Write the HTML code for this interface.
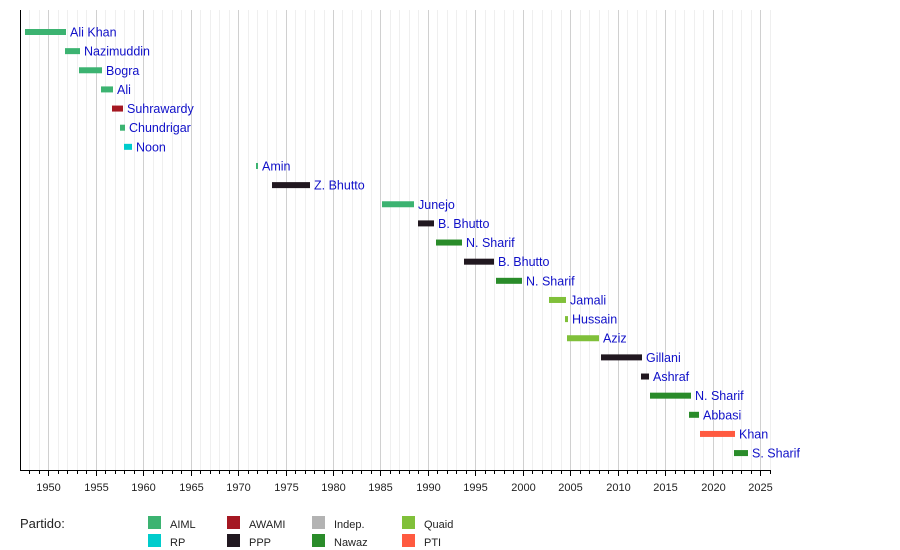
<!DOCTYPE html>
<html><head><style>body{margin:0;background:#fff}svg{display:block}text{font-family:"Liberation Sans",Arial,sans-serif}</style></head><body>
<svg width="900" height="550" xmlns="http://www.w3.org/2000/svg">
<g id="grid"></g>
<line x1="20.5" y1="10" x2="20.5" y2="470" stroke="#000"/>
<line x1="20" y1="470.5" x2="771" y2="470.5" stroke="#000"/>
<g id="ticks"></g>
<g id="bars"></g>
<text x="20" y="528" font-size="13" fill="#222">Partido:</text>
<g font-size="11" fill="#222">
<rect x="148" y="516" width="13" height="13" fill="#3cb371"/><text x="170" y="528">AIML</text>
<rect x="227" y="516" width="13" height="13" fill="#a51822"/><text x="249" y="528">AWAMI</text>
<rect x="312" y="516" width="13" height="13" fill="#b3b3b3"/><text x="334" y="528">Indep.</text>
<rect x="402" y="516" width="13" height="13" fill="#80c03a"/><text x="424" y="528">Quaid</text>
<rect x="148" y="534" width="13" height="13" fill="#00cccc"/><text x="170" y="546">RP</text>
<rect x="227" y="534" width="13" height="13" fill="#211820"/><text x="249" y="546">PPP</text>
<rect x="312" y="534" width="13" height="13" fill="#2a8c2a"/><text x="334" y="546">Nawaz</text>
<rect x="402" y="534" width="13" height="13" fill="#ff5a40"/><text x="424" y="546">PTI</text>
</g>
<script>
var ns="http://www.w3.org/2000/svg";
function el(p,t,a,tx){var e=document.createElementNS(ns,t);for(var k in a)e.setAttribute(k,a[k]);if(tx)e.textContent=tx;document.getElementById(p).appendChild(e);}
function X(y){return 48.3+(y-1950)*9.49;}
for(var y=1948;y<=2026;y++){var x=Math.round(X(y))+0.5;var maj=y%5==0;
if(x>21&&x<771){el("grid","line",{x1:x,x2:x,y1:10,y2:470,stroke:maj?"#d0d0d0":"#efefef"});}
if(x<=771){el("ticks","line",{x1:x,x2:x,y1:470,y2:maj?476:474,stroke:"#000"});}
if(maj)el("ticks","text",{x:x,y:491,"font-size":11,"text-anchor":"middle",fill:"#222"},y);}
var G="#3cb371",R="#a51822",C="#00cccc",K="#211820",N="#2a8c2a",Q="#80c03a",P="#ff5a40";
var d=[[25,66,G,"Ali Khan"],[65,80,G,"Nazimuddin"],[79,102,G,"Bogra"],[101,113,G,"Ali"],[112,123,R,"Suhrawardy"],[120,125,G,"Chundrigar"],[124,132,C,"Noon"],[256,258,G,"Amin"],[272,310,K,"Z. Bhutto"],[382,414,G,"Junejo"],[418,434,K,"B. Bhutto"],[436,462,N,"N. Sharif"],[464,494,K,"B. Bhutto"],[496,522,N,"N. Sharif"],[549,566,Q,"Jamali"],[565,568,Q,"Hussain"],[567,599,Q,"Aziz"],[601,642,K,"Gillani"],[641,649,K,"Ashraf"],[650,691,N,"N. Sharif"],[689,699,N,"Abbasi"],[700,735,P,"Khan"],[734,748,N,"S. Sharif"]];
d.forEach(function(r,i){var cy=32+i*19.14;el("bars","rect",{x:r[0],y:cy-3,width:r[1]-r[0],height:6,fill:r[2]});
el("bars","text",{x:r[1]+4,y:cy+4.5,"font-size":12.5,fill:"#1010c8"},r[3]);});
</script>
</svg>
</body></html>
